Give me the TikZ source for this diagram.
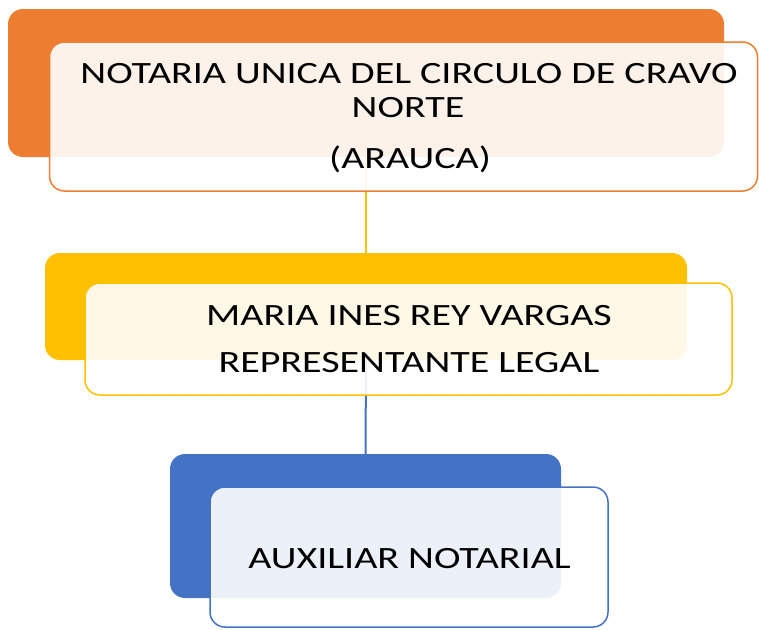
\documentclass[tikz,border=0pt]{standalone}
\usepackage{fontspec}
\setmainfont{Carlito}
\definecolor{corange}{HTML}{ED7D31}
\definecolor{cyellow}{HTML}{FFC000}
\definecolor{cblue}{HTML}{4472C4}
\newcommand{\wtxt}[1]{\scalebox{1.29}[1]{#1}}
\begin{document}
\begin{tikzpicture}[x=1pt,y=-1pt,
  backbox/.style={rectangle,rounded corners=15pt,inner sep=0pt,draw=none},
  frontbox/.style={rectangle,rounded corners=15pt,inner sep=0pt,line width=1.5pt,fill=white,fill opacity=0.9},
  lbl/.style={anchor=base,inner sep=0pt,font=\fontsize{31}{34}\selectfont,text=black},
  conn/.style={line width=2pt}]
\useasboundingbox (0,0) rectangle (759,629);
% back boxes
\node[backbox,fill=corange,minimum width=716pt,minimum height=148pt] (b1) at (366,83) {};
\node[backbox,fill=cyellow,minimum width=642pt,minimum height=107pt] (b2) at (366,306.5) {};
\node[backbox,fill=cblue,minimum width=391pt,minimum height=144pt] (b3) at (365.5,526) {};
% connectors
\draw[conn,draw=cyellow] (b1.south) -- (b2.north);
\draw[conn,draw=cblue] (b2.south) -- (b3.north);
% front boxes
\node[frontbox,draw=corange,minimum width=708pt,minimum height=149pt] (f1) at (403.5,116.5) {};
\node[frontbox,draw=cyellow,minimum width=647pt,minimum height=112pt] (f2) at (408.5,339) {};
\node[frontbox,draw=cblue,minimum width=398pt,minimum height=140pt] (f3) at (409,557) {};
% labels
\node[lbl] (t1a) at (409,83) {\wtxt{NOTARIA UNICA DEL CIRCULO DE CRAVO}};
\node[lbl] (t1b) at (408,117) {\wtxt{NORTE}};
\node[lbl] (t1c) at (410,168) {\wtxt{(ARAUCA)}};
\node[lbl] (t2a) at (409,325) {\wtxt{MARIA INES REY VARGAS}};
\node[lbl] (t2b) at (409,372) {\wtxt{REPRESENTANTE LEGAL}};
\node[lbl] (t3) at (409.5,568) {\wtxt{AUXILIAR NOTARIAL}};
\end{tikzpicture}
\end{document}
